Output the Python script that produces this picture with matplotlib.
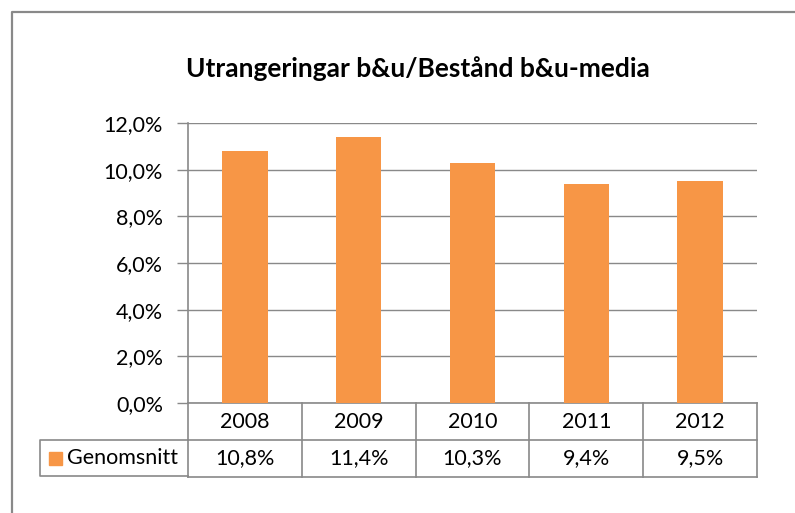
import matplotlib.pyplot as plt
import matplotlib.transforms as mtransforms
from matplotlib.lines import Line2D
from matplotlib.patches import Rectangle

years = ['2008', '2009', '2010', '2011', '2012']
genomsnitt = [10.8, 11.4, 10.3, 9.4, 9.5]
series_name = 'Genomsnitt'
title = 'Utrangeringar b&u/Bestånd b&u-media'

W, H = 795, 513
orange = '#F79646'
grey = '#898989'
font = 'Lato'
fs = 15.5

plt.rcParams['font.family'] = [font, 'DejaVu Sans']

fig = plt.figure(figsize=(W / 100, H / 100), dpi=100)

def fx(x):
    return x / W

def fy(y):
    return 1 - y / H

# outer chart border (left and top only visible)
fig.add_artist(Line2D([fx(12), fx(12), fx(W)], [fy(H), fy(12), fy(12)],
                      color=grey, lw=1.6, transform=fig.transFigure))

fig.text(fx(418), fy(69), title, ha='center', va='center',
         fontsize=19, fontweight='bold')

ax = fig.add_axes([fx(188), fy(403), fx(757) - fx(188), (403 - 123) / H])
x = range(len(years))
ax.bar(x, [v / 100 for v in genomsnitt], width=0.4, color=orange, zorder=3)
ax.set_xlim(-0.5, len(years) - 0.5)
ax.set_ylim(0, 0.12)
yt = [0.0, 0.02, 0.04, 0.06, 0.08, 0.10, 0.12]
ax.set_yticks(yt)
ax.set_yticklabels([('%.1f%%' % (v * 100)).replace('.', ',') for v in yt], fontsize=fs)
ax.set_xticks([])
ax.tick_params(axis='y', length=8, color=grey, width=1, pad=10)
ax.grid(axis='y', color=grey, lw=1, zorder=0)
for s in ['top', 'right']:
    ax.spines[s].set_visible(False)
for s in ['left', 'bottom']:
    ax.spines[s].set_color(grey)
    ax.spines[s].set_linewidth(1.2)

# data table under the axis
tr = mtransforms.blended_transform_factory(ax.transData, ax.transAxes)
row_h = 37 / 280
r1 = -row_h
r2 = -2 * row_h
n = len(years)
kw = dict(color=grey, lw=1.2, transform=tr, clip_on=False)
for i in range(n + 1):
    ax.plot([i - 0.5, i - 0.5], [0, r2], **kw)
ax.plot([-0.5, n - 0.5], [r1, r1], **kw)
ax.plot([-0.5, n - 0.5], [r2, r2], **kw)
for i, (yr, v) in enumerate(zip(years, genomsnitt)):
    ax.text(i, r1 / 2, yr, ha='center', va='center', fontsize=fs, transform=tr)
    ax.text(i, (r1 + r2) / 2, ('%.1f%%' % v).replace('.', ','), ha='center',
            va='center', fontsize=fs, transform=tr)

# legend cell
fig.add_artist(Line2D([fx(188), fx(40), fx(40), fx(188)],
                      [fy(440), fy(440), fy(476), fy(476)],
                      color=grey, lw=1.2, transform=fig.transFigure))
fig.add_artist(Rectangle((fx(49), fy(465)), fx(13), 13 / H, color=orange,
                         transform=fig.transFigure))
fig.text(fx(67), fy(458), series_name, ha='left', va='center', fontsize=fs)

fig.savefig('out.png', dpi=100)
